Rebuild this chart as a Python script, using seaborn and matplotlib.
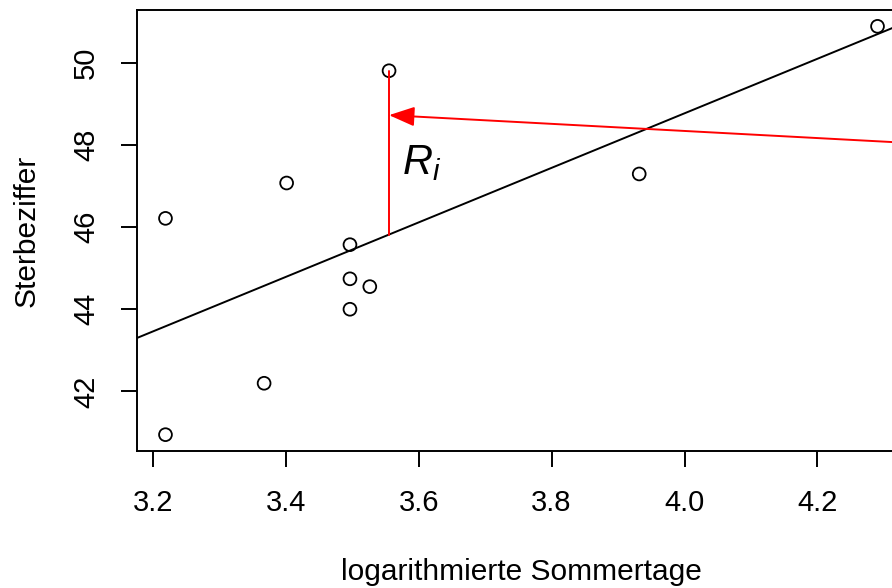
import numpy as np
import pandas as pd
import matplotlib
matplotlib.use("Agg")
import matplotlib.pyplot as plt
import seaborn as sns

# data
sommertage = [25, 25, 29, 30, 33, 33, 33, 34, 35, 51, 73]
log_sommertage = list(np.log(sommertage))
sterbeziffer = [40.95, 46.21, 42.20, 47.07, 45.57, 44.74, 44.00, 44.55, 49.80, 47.29, 50.88]
x_ticks = [3.2, 3.4, 3.6, 3.8, 4.0, 4.2]
y_ticks = [42, 44, 46, 48, 50]
highlight_index = 8

df = pd.DataFrame({"x": log_sommertage, "y": sterbeziffer})

sns.set_theme(style="white")
plt.rcParams["font.family"] = ["Liberation Sans", "DejaVu Sans"]
plt.rcParams["mathtext.fontset"] = "custom"
plt.rcParams["mathtext.rm"] = "Liberation Sans"
plt.rcParams["mathtext.it"] = "Liberation Sans:italic"

fig = plt.figure(figsize=(8.92, 5.88), dpi=100)
ax = fig.add_axes([137/892, (588-451)/588, (906-137)/892, (451-10)/588])

xr = max(log_sommertage) - min(log_sommertage)
yr = max(sterbeziffer) - min(sterbeziffer)
xlim = (min(log_sommertage) - 0.04*xr, max(log_sommertage) + 0.04*xr)
ylim = (min(sterbeziffer) - 0.04*yr, max(sterbeziffer) + 0.04*yr)
ax.set_xlim(*xlim)
ax.set_ylim(*ylim)

sns.regplot(data=df, x="x", y="y", ax=ax, ci=None, truncate=False,
            scatter_kws=dict(s=85, facecolors="none", edgecolors="black", linewidths=1.3, alpha=1),
            line_kws=dict(color="black", lw=1.4))
ax.set_xlim(*xlim)
ax.set_ylim(*ylim)

# residual
b1, b0 = np.polyfit(log_sommertage, sterbeziffer, 1)
xi = log_sommertage[highlight_index]
yi = sterbeziffer[highlight_index]
yhat = b0 + b1 * xi
ax.plot([xi, xi], [yhat, yi], color="red", lw=1.4)

# arrow
ax.annotate("", xy=(xi, 48.72), xytext=(4.40, 47.99), xycoords="data", textcoords="data",
            arrowprops=dict(arrowstyle="-|>,head_length=1.3,head_width=0.5", color="red", lw=1.4,
                            shrinkA=0, shrinkB=0),
            annotation_clip=False)

ax.text(3.575, 47.55, r"$R_i$", fontsize=30, color="black", ha="left", va="center")

ax.set_xticks(x_ticks)
ax.set_xticklabels([f"{v:.1f}" for v in x_ticks])
ax.set_yticks(y_ticks)
ax.set_yticklabels([str(v) for v in y_ticks], rotation=90, va="center")

for s in ax.spines.values():
    s.set_color("black")
    s.set_linewidth(1.4)
ax.tick_params(axis="both", direction="out", length=11.5, width=1.4, color="black",
               labelsize=21, labelcolor="black", left=True, bottom=True)
ax.tick_params(axis="x", pad=16)
ax.tick_params(axis="y", pad=15)

ax.set_xlabel("logarithmierte Sommertage", fontsize=21.5, color="black")
ax.set_ylabel("Sterbeziffer", fontsize=21.5, color="black")
ax.xaxis.set_label_coords(0.5, -0.243)
ax.yaxis.set_label_coords(-0.125, 0.5)

fig.savefig("out.png", dpi=100)
